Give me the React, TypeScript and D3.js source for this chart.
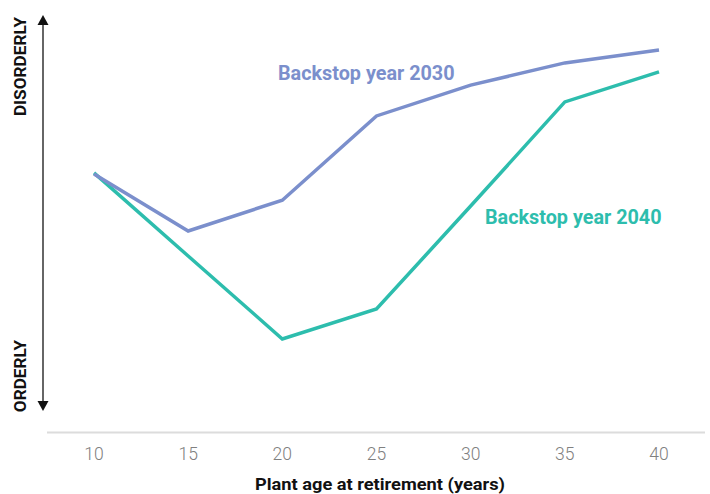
import React from "react";
import * as d3 from "d3";

const ages = [10, 15, 20, 25, 30, 35, 40];
const backstop2030 = [60.5, 45.9, 53.8, 75.4, 83.3, 89.0, 92.3];
const backstop2040 = [60.8, 39.5, 18.2, 25.9, 52.3, 79.0, 86.7];
const seriesNames = ["Backstop year 2030", "Backstop year 2040"];
const colors = ["#7b8fcc", "#2dbdad"];

const W = 710;
const H = 494;

export default function App() {
  const x = d3.scaleLinear().domain([10, 40]).range([94, 659]);
  const y = d3.scaleLinear().domain([0, 100]).range([410, 20]);
  const line = d3
    .line<number>()
    .x((_, i) => x(ages[i]))
    .y((d) => y(d));
  const font = "Roboto, 'Noto Sans', sans-serif";
  return (
    <svg
      width={W}
      height={H}
      style={{ position: "absolute", left: 0, top: 0, background: "#fff" }}
      fontFamily={font}
    >
      {/* x axis line */}
      <line x1={47} x2={705} y1={432.5} y2={432.5} stroke="#dcdcdc" strokeWidth={2} />
      {ages.map((a) => (
        <text
          key={a}
          x={x(a)}
          y={460}
          textAnchor="middle"
          fontSize={17.5}
          fontWeight={300}
          fill="#808080"
        >
          {a}
        </text>
      ))}
      <text
        x={380}
        y={490}
        textAnchor="middle"
        fontSize={16}
        fontWeight={700}
        fill="#111"
        textLength={250}
        lengthAdjust="spacingAndGlyphs"
      >
        Plant age at retirement (years)
      </text>

      {/* y arrow */}
      <line x1={43} x2={43} y1={24} y2={402} stroke="#333" strokeWidth={1.5} />
      <path d="M43,15 L37.5,25 L48.5,25 Z" fill="#111" />
      <path d="M43,411 L37.5,401 L48.5,401 Z" fill="#111" />
      <text
        transform="translate(25.5,66.5) rotate(-90)"
        textAnchor="middle"
        fontSize={17.2}
        fontWeight={700}
        fill="#111"
      >
        DISORDERLY
      </text>
      <text
        transform="translate(25.5,376) rotate(-90)"
        textAnchor="middle"
        fontSize={17.2}
        fontWeight={700}
        fill="#111"
      >
        ORDERLY
      </text>

      {/* lines */}
      <path
        d={line(backstop2040) || ""}
        fill="none"
        stroke={colors[1]}
        strokeWidth={3.5}
        strokeLinejoin="miter"
      />
      <path
        d={line(backstop2030) || ""}
        fill="none"
        stroke={colors[0]}
        strokeWidth={3.5}
        strokeLinejoin="miter"
      />

      <text x={278} y={80} fontSize={19.8} fontWeight={700} fill={colors[0]}>
        {seriesNames[0]}
      </text>
      <text x={485} y={224} fontSize={19.8} fontWeight={700} fill={colors[1]}>
        {seriesNames[1]}
      </text>
    </svg>
  );
}
